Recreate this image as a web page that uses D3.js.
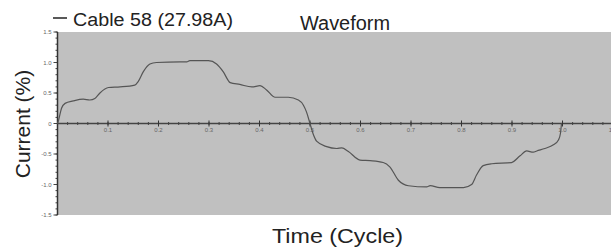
<!DOCTYPE html>
<html><head><meta charset="utf-8">
<script src="https://cdn.jsdelivr.net/npm/d3@7"></script>
<style>body{margin:0;background:#fff}svg{display:block}</style>
</head><body>
<svg id="c" width="611" height="250"></svg>
<script>
const title = "Waveform";
const seriesName = "Cable 58 (27.98A)";
const xLabel = "Time (Cycle)";
const yLabel = "Current (%)";
const xTicks = [0.1,0.2,0.3,0.4,0.5,0.6,0.7,0.8,0.9,1.0,1.1];
const xTickLabels = ["0.1","0.2","0.3","0.4","0.5","0.6","0.7","0.8","0.9","1.0","1.1"];
const yTicks = [1.5,1.0,0.5,0,-0.5,-1.0,-1.5];
const yTickLabels = ["1.5","1.0","0.5","0","-0.5","-1.0","-1.5"];
const time = [0,0.002,0.008,0.015,0.031,0.051,0.064,0.074,0.084,0.101,0.124,0.153,0.160,0.170,0.183,0.196,0.243,0.256,0.262,0.299,0.315,0.328,0.342,0.361,0.385,0.401,0.414,0.431,0.457,0.477,0.487,0.493,0.500,0.507,0.513,0.533,0.553,0.563,0.576,0.599,0.619,0.645,0.658,0.675,0.695,0.731,0.738,0.757,0.804,0.820,0.830,0.843,0.860,0.899,0.916,0.929,0.942,0.949,0.965,0.982,0.992,0.996,0.998];
const current = [0,0.05,0.25,0.33,0.37,0.40,0.385,0.41,0.50,0.59,0.60,0.63,0.69,0.85,0.975,1.0,1.01,1.01,1.03,1.03,0.975,0.85,0.67,0.64,0.60,0.62,0.55,0.43,0.43,0.385,0.30,0.19,0,-0.19,-0.29,-0.38,-0.41,-0.40,-0.46,-0.60,-0.61,-0.64,-0.71,-0.93,-1.02,-1.04,-1.02,-1.05,-1.05,-1.0,-0.84,-0.69,-0.66,-0.64,-0.53,-0.45,-0.47,-0.45,-0.41,-0.35,-0.27,-0.16,0];

const svg = d3.select("#c");
const L = 57.5, R = 611, T = 32, B = 215;
const x = d3.scaleLinear().domain([0, (R - L) / 505]).range([L, R]);
const y = d3.scaleLinear().domain([-1.5, 1.5]).range([B, T]);
const FF = "Liberation Sans, Arial, sans-serif";

svg.append("rect").attr("x", L).attr("y", T).attr("width", R - L).attr("height", B - T).attr("fill", "#c0c0c0");

// y axis
const yMinor = d3.range(-15, 16).map(d => d / 10);
const ya = svg.append("g").attr("transform", `translate(${L},0)`);
ya.selectAll("line.mn").data(yMinor).join("line")
  .attr("x1", -2).attr("x2", 0).attr("y1", d => y(d)).attr("y2", d => y(d))
  .attr("stroke", "#444").attr("stroke-width", 1);
ya.selectAll("line.mj").data(yTicks).join("line")
  .attr("x1", -4).attr("x2", 0).attr("y1", d => y(d)).attr("y2", d => y(d))
  .attr("stroke", "#444").attr("stroke-width", 1);
ya.selectAll("text").data(yTicks).join("text")
  .attr("x", -6).attr("y", d => y(d)).attr("dy", "0.35em").attr("text-anchor", "end")
  .attr("font-family", FF).attr("font-size", 6).attr("fill", "#666")
  .text((d, i) => yTickLabels[i]);
ya.append("line").attr("x1", 0).attr("x2", 0).attr("y1", T).attr("y2", B).attr("stroke", "#333").attr("stroke-width", 1.5);

// x axis at zero
const xMinor = d3.range(1, 56).map(d => d / 50);
const xa = svg.append("g").attr("transform", `translate(0,${y(0)})`);
xa.append("line").attr("x1", L).attr("x2", R).attr("y1", 0).attr("y2", 0).attr("stroke", "#444").attr("stroke-width", 1.3);
xa.selectAll("line.mn").data(xMinor).join("line")
  .attr("x1", d => x(d)).attr("x2", d => x(d)).attr("y1", -1.5).attr("y2", 1.5)
  .attr("stroke", "#444").attr("stroke-width", 1);
xa.selectAll("line.mj").data(xTicks).join("line")
  .attr("x1", d => x(d)).attr("x2", d => x(d)).attr("y1", -3).attr("y2", 3)
  .attr("stroke", "#333").attr("stroke-width", 1);
xa.selectAll("text").data(xTicks).join("text")
  .attr("x", d => x(d)).attr("y", 8.5).attr("text-anchor", "middle")
  .attr("font-family", FF).attr("font-size", 6).attr("fill", "#666")
  .text((d, i) => xTickLabels[i]);

// curve
const pts = time.map((t, i) => [t, current[i]]);
svg.append("path").datum(pts)
  .attr("d", d3.line().x(d => x(d[0])).y(d => y(d[1])).curve(d3.curveMonotoneX))
  .attr("fill", "none").attr("stroke", "#555").attr("stroke-width", 1.2);

// legend
svg.append("line").attr("x1", 53).attr("x2", 67).attr("y1", 18).attr("y2", 18).attr("stroke", "#222").attr("stroke-width", 1.5);
svg.append("text").attr("x", 73).attr("y", 26).attr("font-family", FF)
  .attr("font-size", 18).attr("textLength", 160).attr("lengthAdjust", "spacingAndGlyphs").attr("fill", "#222").text(seriesName);
// title
svg.append("text").attr("x", 300).attr("y", 30).attr("font-family", FF)
  .attr("font-size", 20).attr("textLength", 90).attr("lengthAdjust", "spacingAndGlyphs").attr("fill", "#222").text(title);
// x label
svg.append("text").attr("x", 272).attr("y", 243).attr("font-family", FF)
  .attr("font-size", 21).attr("textLength", 131).attr("lengthAdjust", "spacingAndGlyphs").attr("fill", "#222").text(xLabel);
// y label
svg.append("text").attr("transform", "translate(30,124) rotate(-90)").attr("text-anchor", "middle")
  .attr("font-family", FF).attr("font-size", 21).attr("fill", "#222").text(yLabel);
</script>
</body></html>
